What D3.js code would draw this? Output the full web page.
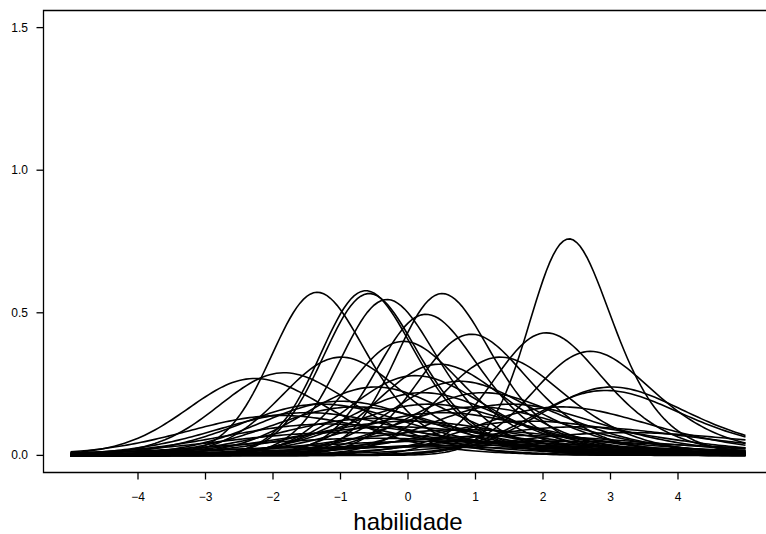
<!DOCTYPE html>
<html>
<head>
<meta charset="utf-8">
<script src="https://cdn.jsdelivr.net/npm/d3@7"></script>
<style>
  body { margin: 0; background: #fff; }
  svg { display: block; }
  text { font-family: "Liberation Sans", Arial, Helvetica, sans-serif; fill: #000; }
</style>
</head>
<body>
<div id="chart"></div>
<script>
// size of the page
var width = 766;
var height = 534;

// item parameters (3PL)
var itemA = [2.111, 1.832, 1.841, 1.825, 1.791, 1.825, 1.704, 1.588, 1.579, 1.463,
             1.532, 1.422, 1.422, 1.258, 1.304, 1.186, 1.156, 1.370, 1.281, 1.235,
             1.186, 1.027, 1.056, 0.999, 0.938, 0.873, 0.839, 0.766, 0.938, 0.999,
             1.027, 0.999, 0.839, 1.027, 0.593, 0.542, 0.641, 0.766, 0.685, 0.727,
             0.685, 0.542, 0.419, 0.453, 0.906, 0.803, 1.136, 1.136];
var itemB = [2.26, -1.49, -0.77, -0.72, -0.46, 0.36, 0.11, 1.88, 0.77, 2.52,
             -0.24, -1.18, 1.18, -2.48, -2.04, 2.79, 2.70, 0.27, -0.10, 0.55,
             -0.71, -1.54, -1.24, -1.05, -1.77, -0.79, -0.30, -0.53, 0.23, 0.75,
             1.26, 2.00, 1.50, 0.06, -0.92, 0.04, 1.11, 2.17, -1.36, 0.46,
             2.84, 1.54, -0.90, 0.65, -2.18, -1.51, -0.02, 0.88];
var itemC = 0.2;   // same guessing for every item

var xTicks = [-4, -3, -2, -1, 0, 1, 2, 3, 4];
var yTicks = [0, 0.5, 1.0, 1.5];
var xLabel = "habilidade";

// ability grid the curves are drawn on
var thetaMin = -5, thetaMax = 5;
var thetas = d3.range(thetaMin, thetaMax + 1e-9, 0.05);

// item information function of the 3PL model
function info(theta, a, b, c) {
  var p = 1 / (1 + Math.exp(-a * (theta - b)));
  var P = c + (1 - c) * p;
  return a * a * Math.pow(P - c, 2) / Math.pow(1 - c, 2) * (1 - P) / P;
}

var svg = d3.select("#chart").append("svg")
  .attr("width", width)
  .attr("height", height);

// R style 4% extension of the ranges (plot box runs off the right edge)
var x = d3.scaleLinear().domain([-5.4, 5.4]).range([43.5, 772.5]);
var y = d3.scaleLinear().domain([-0.06, 1.56]).range([472.5, 10.5]);

// curves
var line = d3.line()
  .x(function(d) { return x(d[0]); })
  .y(function(d) { return y(d[1]); })
  .curve(d3.curveLinear);

svg.append("g")
  .selectAll("path")
  .data(itemA.map(function(a, i) { return { a: a, b: itemB[i] }; }))
  .enter()
  .append("path")
    .attr("d", function(d) {
      return line(thetas.map(function(t) { return [t, info(t, d.a, d.b, itemC)]; }));
    })
    .style("fill", "none")
    .style("stroke", "#000")
    .style("stroke-width", 1.6);

// box (left, top, bottom)
svg.append("path")
  .attr("d", "M" + x.range()[1] + "," + y.range()[1] + "H" + x.range()[0] +
             "V" + y.range()[0] + "H" + x.range()[1])
  .style("fill", "none")
  .style("stroke", "#000")
  .style("stroke-width", 1.3);

// x axis
var fmt = function(d) { return d < 0 ? "\u2212" + Math.abs(d) : String(d); };
var xAxis = svg.append("g");
xAxis.selectAll("line").data(xTicks).enter().append("line")
  .attr("x1", function(d) { return x(d); })
  .attr("x2", function(d) { return x(d); })
  .attr("y1", y.range()[0])
  .attr("y2", y.range()[0] + 7)
  .style("stroke", "#000")
  .style("stroke-width", 1.3);
xAxis.selectAll("text").data(xTicks).enter().append("text")
  .attr("x", function(d) { return x(d); })
  .attr("y", 501)
  .attr("text-anchor", "middle")
  .style("font-size", "12px")
  .text(fmt);

// y axis
var yAxis = svg.append("g");
yAxis.selectAll("line").data(yTicks).enter().append("line")
  .attr("x1", x.range()[0] - 7)
  .attr("x2", x.range()[0])
  .attr("y1", function(d) { return y(d); })
  .attr("y2", function(d) { return y(d); })
  .style("stroke", "#000")
  .style("stroke-width", 1.3);
yAxis.selectAll("text").data(yTicks).enter().append("text")
  .attr("x", 28)
  .attr("y", function(d) { return y(d) + 4; })
  .attr("text-anchor", "end")
  .style("font-size", "12px")
  .text(function(d) { return d3.format(".1f")(d); });

// axis title
svg.append("text")
  .attr("x", x(0))
  .attr("y", 530)
  .attr("text-anchor", "middle")
  .style("font-size", "24px")
  .text(xLabel);
</script>
</body>
</html>
